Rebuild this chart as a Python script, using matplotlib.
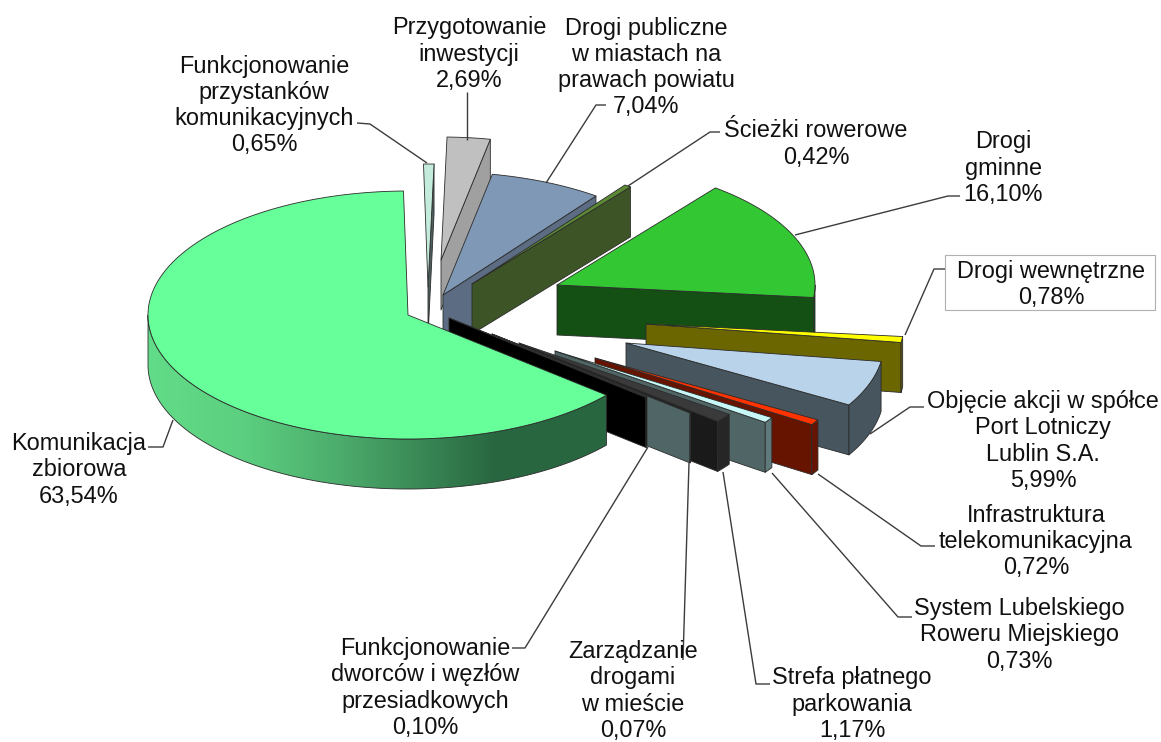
import numpy as np
import matplotlib
matplotlib.use("Agg")
import matplotlib.pyplot as plt
from matplotlib.colors import LinearSegmentedColormap
from matplotlib.patches import Polygon, Rectangle

plt.rcParams['font.family'] = ['Liberation Sans', 'DejaVu Sans']

# ---------- data ----------
categories = ["Funkcjonowanie\nprzystanków\nkomunikacyjnych",
              "Przygotowanie\ninwestycji",
              "Drogi publiczne\nw miastach na\nprawach powiatu",
              "Ścieżki rowerowe",
              "Drogi\ngminne",
              "Drogi wewnętrzne",
              "Objęcie akcji w spółce\nPort Lotniczy\nLublin S.A.",
              "Infrastruktura\ntelekomunikacyjna",
              "System Lubelskiego\nRoweru Miejskiego",
              "Strefa płatnego\nparkowania",
              "Zarządzanie\ndrogami\nw mieście",
              "Funkcjonowanie\ndworców i węzłów\nprzesiadkowych",
              "Komunikacja\nzbiorowa"]
shares = [0.65, 2.69, 7.04, 0.42, 16.10, 0.78, 5.99, 0.72, 0.73, 1.17, 0.07, 0.10, 63.54]

# ---------- style / layout ----------
top_colors = ['#c4ecdc', '#c0c0c0', '#7f98b5', '#5c8a33', '#33c733', '#ffff00', '#b9d3ea',
              '#ff3300', '#c8f7f7', '#3a3a3a', '#3a3a3a', '#111111', '#66ff99']
side_colors = ['#506060', '#a0a0a0', '#5c6c82', '#3d5526', '#144f14', '#6b6600', '#47555e',
               '#661400', '#506666', '#1a1a1a', '#506666', '#000000', '#2a6640']
outer_colors = ['#506060', '#a0a0a0', '#5c6c82', '#3d5526', '#144f14', '#6b6600', '#47555e',
                '#661400', '#5f7a7a', '#262626', '#506666', '#000000', '#2a6640']
apex_x = [428, 441, 443, 472, 557, 646, 626, 595, 555, 519, 492, 449, 408]
apex_y = [287, 260, 295, 284, 285, 324, 343, 358, 351, 343, 334, 318, 315]
radius_x = [258] * 12 + [260]
radius_y = [123] * 12 + [124]
DEPTH = 50
START_ANGLE = 91.0

label_x = [264, 469, 646, 816, 1003, 1051, 1043, 1036, 1019, 852, 633, 425, 79]
label_y = [105.5, 54, 67.5, 144, 168, 284.5, 441, 541.5, 635, 704, 691, 688, 470]

leaders = [[(357, 123), (370, 124), (427, 163)],
           [(467, 92), (467, 140)],
           [(606, 105), (596, 105), (546, 183)],
           [(720, 132), (710, 132), (628, 186)],
           [(960, 196), (948, 196), (795, 235)],
           [(945, 269), (934, 269), (905, 335)],
           [(924, 407), (910, 407), (870, 434)],
           [(935, 546), (921, 546), (818, 474)],
           [(912, 617), (898, 617), (772, 473)],
           [(770, 684), (756, 684), (723, 472)],
           [(683, 660), (689, 463)],
           [(512, 648), (525, 648), (648, 447)],
           [(148, 447), (163, 447), (173, 420)]]

fig = plt.figure(figsize=(11.61, 7.42), dpi=100)
ax = fig.add_axes([0, 0, 1, 1])
EDGE = dict(edgecolor='#2b2b2b', linewidth=0.6, joinstyle='round')


def arc(cx, cy, rx, ry, a0, a1, n=120):
    t = np.radians(np.linspace(a0, a1, n))
    return np.column_stack([cx + rx * np.cos(t), cy - ry * np.sin(t)])


sweeps = np.array(shares) / sum(shares) * 360.0
ends = START_ANGLE - np.cumsum(sweeps)
starts = ends + sweeps
last = len(shares) - 1

for i in range(len(shares)):
    cx, cy, rx, ry = apex_x[i], apex_y[i], radius_x[i], radius_y[i]
    a0, a1 = starts[i], ends[i]
    rim = arc(cx, cy, rx, ry, a0, a1, max(8, int(abs(a1 - a0) * 3)))
    apex = np.array([[cx, cy]])
    down = np.array([0, DEPTH])

    if i != last:
        tip = rim[-1:]
        face = np.vstack([apex, tip, tip + down, apex + down])
        ax.add_patch(Polygon(face, closed=True, facecolor=side_colors[i], zorder=10 + i, **EDGE))
        # outer wall: only the part of the rim below the horizontal axis faces the viewer
        if a1 < 0:
            seg = arc(cx, cy, rx, ry, min(a0, 0), a1, 40)
            wall = np.vstack([seg, seg[::-1] + down])
            ax.add_patch(Polygon(wall, closed=True, facecolor=outer_colors[i], zorder=10 + i, **EDGE))
    else:
        seg = arc(cx, cy, rx, ry, a0, -180, 300)
        wall = np.vstack([seg, seg[::-1] + down])
        poly = Polygon(wall, closed=True, facecolor='none', zorder=10 + i + 0.2, **EDGE)
        ax.add_patch(poly)
        cmap = LinearSegmentedColormap.from_list(
            'wall', [(0, '#62dc88'), (0.2, '#5cd080'), (0.42, '#4cac6c'), (0.76, '#286640'), (1, '#286640')])
        im = ax.imshow(np.linspace(0, 1, 512).reshape(1, -1), cmap=cmap, vmin=0, vmax=1,
                       extent=[cx - rx, cx + rx * np.cos(np.radians(a0)), 600, 100],
                       aspect='auto', zorder=10 + i + 0.1)
        im.set_clip_path(poly)

    ax.add_patch(Polygon(np.vstack([apex, rim]), closed=True, facecolor=top_colors[i],
                         zorder=10 + i + 0.5, **EDGE))

# leader lines
for pts in leaders:
    xs, ys = zip(*pts)
    ax.plot(xs, ys, color='#3c3c3c', lw=1.0, zorder=40, solid_capstyle='butt')

# labels
ax.add_patch(Rectangle((945, 255), 210, 55, facecolor='white', edgecolor='#b0b0b0', lw=0.8, zorder=35))
for i, (name, val) in enumerate(zip(categories, shares)):
    txt = name + "\n" + f"{val:.2f}%".replace('.', ',')
    ax.text(label_x[i], label_y[i], txt, ha='center', va='center', multialignment='center',
            fontsize=16.9, color='#111111', linespacing=1.17, zorder=50)

ax.set_xlim(0, 1161)
ax.set_ylim(742, 0)
ax.axis('off')
fig.savefig('out.png', dpi=100, facecolor='white')
